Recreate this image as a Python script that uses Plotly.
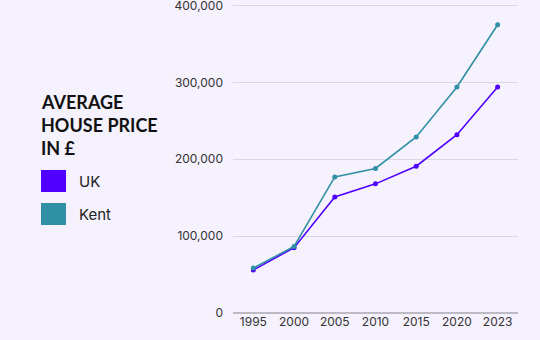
import plotly.graph_objects as go

years = ["1995", "2000", "2005", "2010", "2015", "2020", "2023"]
uk_prices = [56000, 85000, 151000, 168000, 191000, 232000, 294000]
kent_prices = [58500, 86500, 177000, 188000, 229000, 294000, 375000]
y_ticks = [0, 100000, 200000, 300000, 400000]
y_tick_labels = ["0", "100,000", "200,000", "300,000", "400,000"]

title_lines = ["AVERAGE", "HOUSE PRICE", "IN £"]
series_names = ["UK", "Kent"]
series_colors = ["#5000FF", "#3090A6"]

bg = "#F5F1FD"
font_family = "Inter, Lato, sans-serif"

fig = go.Figure()
for name, vals, col in zip(series_names, [uk_prices, kent_prices], series_colors):
    fig.add_trace(go.Scatter(
        x=years, y=vals, name=name, mode="lines+markers",
        line=dict(color=col, width=1.6),
        marker=dict(color=col, size=5),
        showlegend=False,
    ))

# Hand-built legend block on the left (pixel positions, converted below)
title_y = [102, 125, 148]
for txt, yp in zip(title_lines, title_y):
    fig.add_annotation(
        x=39, y=yp, xref="paper", yref="paper", text=txt, showarrow=False,
        xanchor="left", yanchor="middle",
        font=dict(family="Lato, sans-serif", size=18, color="#111111", weight="bold"),
    )
swatch_top = [170, 203]
for name, col, top in zip(series_names, series_colors, swatch_top):
    fig.add_shape(type="rect", xref="paper", yref="paper",
                  x0=41, x1=66, y0=top, y1=top + 22,
                  fillcolor=col, line=dict(width=0))
    fig.add_annotation(
        x=77, y=top + 11, xref="paper", yref="paper", text=name, showarrow=False,
        xanchor="left", yanchor="middle",
        font=dict(family=font_family, size=15, color="#222222"),
    )

W, H = 540, 340
ml, mr, mt, mb = 233, 22, 4, 27
pw, ph = W - ml - mr, H - mt - mb

for a in fig.layout.annotations:
    a.x = (a.x - ml) / pw
    a.y = 1 - (a.y - mt) / ph
for s in fig.layout.shapes:
    s.x0 = (s.x0 - ml) / pw
    s.x1 = (s.x1 - ml) / pw
    y0, y1 = s.y0, s.y1
    s.y0 = 1 - (y1 - mt) / ph
    s.y1 = 1 - (y0 - mt) / ph

fig.update_layout(
    width=W, height=H,
    margin=dict(l=ml, r=mr, t=mt, b=mb, autoexpand=False),
    paper_bgcolor=bg, plot_bgcolor=bg,
    font=dict(family=font_family, size=12, color="#333333"),
    xaxis=dict(
        type="category", range=[-0.5, 6.5], showgrid=False, zeroline=False,
        showline=False, ticks="", automargin=False,
        tickfont=dict(size=12, color="#333333"),
    ),
    yaxis=dict(
        range=[0, 402000], tickvals=y_ticks, ticktext=y_tick_labels,
        showgrid=True, gridcolor="#DAD6E4", gridwidth=1,
        zeroline=True, zerolinecolor="#BDBAC4", zerolinewidth=2,
        ticks="", ticklabelstandoff=9, ticklabeloverflow="allow",
        automargin=False,
        tickfont=dict(size=12, color="#333333"),
    ),
)

fig.write_html("out.html")
